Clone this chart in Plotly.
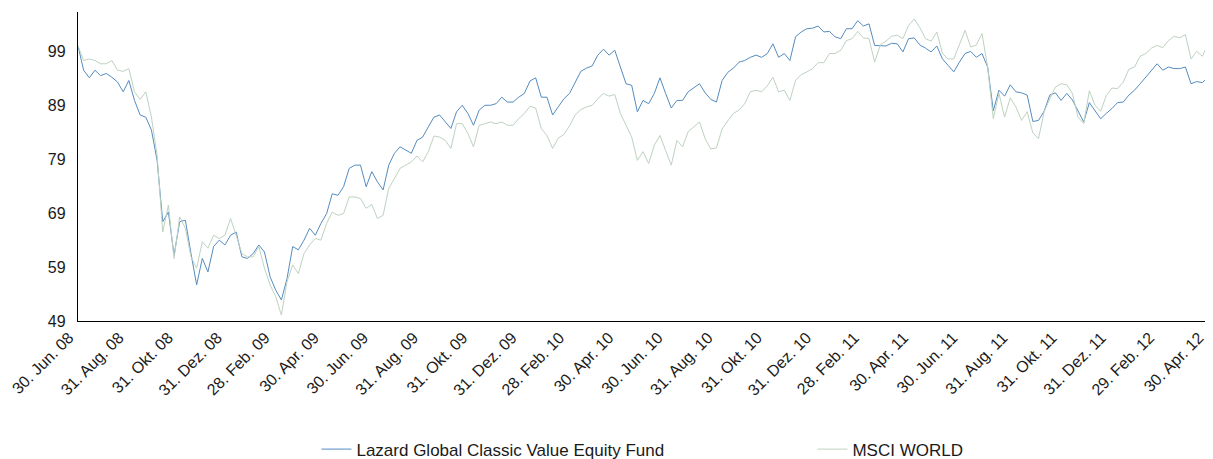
import pandas as pd
import plotly.graph_objects as go

# weekly observation dates (every 7 days from 30 Jun 2008 to 30 Apr 2012)
dates = pd.date_range("2008-06-30", "2012-04-30", freq="7D")

fund_name = "Lazard Global Classic Value Equity Fund"
msci_name = "MSCI WORLD"

fund = [
    100.0, 95.5, 94.1, 95.5, 94.5, 94.9, 94.2, 93.3, 91.5, 93.6,
    89.9, 87.2, 86.8, 84.4, 78.8, 67.4, 69.2, 61.2, 67.4, 67.7,
    61.5, 55.7, 60.6, 58.1, 62.8, 64.0, 63.1, 64.9, 65.5, 60.9,
    60.6, 61.5, 63.1, 61.8, 57.2, 54.7, 52.9, 56.9, 62.8, 62.2,
    64.0, 66.2, 64.9, 67.1, 68.9, 72.6, 72.3, 73.9, 77.3, 77.9,
    77.9, 73.9, 76.7, 74.8, 73.3, 77.9, 80.1, 81.3, 80.7, 80.1,
    82.5, 83.1, 85.0, 86.8, 87.2, 85.9, 84.7, 87.8, 89.0, 87.5,
    85.3, 88.1, 89.0, 89.0, 89.3, 90.5, 89.6, 89.6, 90.5, 91.2,
    93.5, 94.1, 90.5, 90.5, 87.2, 88.7, 90.2, 91.2, 93.3, 95.3,
    95.9, 96.3, 98.3, 99.4, 98.3, 99.2, 96.1, 93.0, 92.7, 87.8,
    89.9, 89.3, 91.2, 94.1, 91.2, 88.5, 89.9, 89.9, 91.5, 92.2,
    93.0, 91.3, 90.1, 89.6, 93.6, 95.1, 95.9, 97.0, 97.3, 97.9,
    98.3, 97.9, 98.6, 100.4, 97.9, 98.6, 97.3, 101.7, 102.6, 103.2,
    103.3, 103.7, 102.6, 102.7, 101.7, 101.35, 103.2, 103.2, 104.7, 103.7,
    104.1, 100.1, 100.1, 100.0, 100.5, 100.4, 98.9, 101.35, 101.5, 100.2,
    99.6, 98.9, 100.0, 97.6, 96.4, 95.2, 97.0, 98.6, 99.0, 97.9,
    98.6, 96.1, 88.0, 91.8, 90.7, 92.8, 91.5, 91.3, 90.9, 86.0,
    86.2, 87.9, 90.9, 91.3, 89.9, 91.2, 90.0, 87.8, 85.9, 89.5,
    88.1, 86.5, 87.5, 88.4, 89.5, 89.6, 90.9, 91.8, 93.0, 94.2,
    95.3, 96.7, 95.5, 96.1, 95.8, 95.8, 96.1, 93.0, 93.4, 93.2,
    94.2,
]

msci = [
    100.0, 97.3, 97.6, 97.3, 96.7, 96.7, 97.3, 95.5, 95.3, 95.8,
    91.5, 90.1, 91.5, 86.8, 79.7, 65.5, 70.5, 60.6, 68.3, 66.2,
    60.9, 58.8, 63.7, 62.5, 64.9, 64.3, 64.9, 68.0, 64.9, 61.5,
    60.9, 60.9, 62.8, 58.8, 55.7, 53.5, 50.1, 56.3, 59.4, 57.8,
    61.5, 63.1, 64.3, 64.0, 67.1, 69.2, 68.6, 68.9, 72.0, 72.0,
    71.7, 69.9, 70.6, 68.0, 68.6, 73.6, 75.4, 77.3, 77.9, 78.5,
    79.6, 78.5, 80.4, 83.3, 83.1, 82.5, 81.0, 85.6, 85.6, 83.8,
    81.3, 85.3, 85.6, 85.9, 85.6, 85.9, 85.3, 85.3, 86.5, 87.5,
    88.8, 88.5, 84.7, 83.4, 81.0, 82.9, 83.6, 85.2, 87.2, 88.2,
    88.7, 89.0, 90.2, 91.2, 90.7, 91.0, 87.5, 85.3, 83.1, 78.8,
    80.4, 78.2, 81.6, 83.4, 80.5, 77.9, 82.5, 81.3, 84.1, 85.0,
    85.9, 82.8, 80.9, 81.1, 84.6, 86.1, 87.5, 88.1, 89.3, 91.5,
    91.8, 91.5, 92.6, 94.2, 91.5, 91.8, 89.9, 93.6, 94.7, 95.2,
    95.8, 96.9, 96.9, 98.6, 98.6, 99.2, 101.0, 101.35, 102.7, 101.5,
    101.35, 97.0, 100.2, 100.9, 101.8, 102.0, 101.35, 103.8, 105.0, 103.4,
    101.35, 100.9, 102.6, 98.6, 97.6, 97.6, 100.4, 102.9, 99.8, 100.2,
    102.3, 96.1, 86.5, 91.2, 86.8, 90.4, 88.7, 86.2, 87.8, 83.9,
    82.8, 87.8, 90.2, 92.4, 93.0, 92.8, 91.2, 86.8, 85.6, 91.7,
    89.0, 87.9, 90.8, 92.2, 92.1, 93.3, 95.7, 96.1, 98.1, 98.6,
    99.6, 100.1, 99.7, 101.0, 101.8, 101.5, 102.1, 97.6, 99.0, 98.1,
    100.4,
]

tick_dates = [
    "2008-06-30", "2008-08-31", "2008-10-31", "2008-12-31", "2009-02-28",
    "2009-04-30", "2009-06-30", "2009-08-31", "2009-10-31", "2009-12-31",
    "2010-02-28", "2010-04-30", "2010-06-30", "2010-08-31", "2010-10-31",
    "2010-12-31", "2011-02-28", "2011-04-30", "2011-06-30", "2011-08-31",
    "2011-10-31", "2011-12-31", "2012-02-29", "2012-04-30",
]
tick_labels = [
    "30. Jun. 08", "31. Aug. 08", "31. Okt. 08", "31. Dez. 08", "28. Feb. 09",
    "30. Apr. 09", "30. Jun. 09", "31. Aug. 09", "31. Okt. 09", "31. Dez. 09",
    "28. Feb. 10", "30. Apr. 10", "30. Jun. 10", "31. Aug. 10", "31. Okt. 10",
    "31. Dez. 10", "28. Feb. 11", "30. Apr. 11", "30. Jun. 11", "31. Aug. 11",
    "31. Okt. 11", "31. Dez. 11", "29. Feb. 12", "30. Apr. 12",
]
y_ticks = [49, 59, 69, 79, 89, 99]

FONT = "Liberation Sans, Arial, sans-serif"

fig = go.Figure()
fig.add_trace(go.Scatter(
    x=dates, y=fund, mode="lines", name=fund_name,
    line=dict(color="rgb(84,140,192)", width=1),
))
fig.add_trace(go.Scatter(
    x=dates, y=msci, mode="lines", name=msci_name,
    line=dict(color="rgb(190,210,192)", width=1),
))

# the page body has an 8px default margin, so the figure is sized to fit the window
fig.update_layout(
    width=1205, height=451,
    margin=dict(l=70, r=5, t=4, b=138, autoexpand=False),
    paper_bgcolor="white", plot_bgcolor="white",
    font=dict(family=FONT, size=16, color="#1a1a1a"),
    showlegend=True,
    legend=dict(
        orientation="h", x=0.211, xanchor="left", y=-0.416, yanchor="middle",
        entrywidth=451, entrywidthmode="pixels",
        font=dict(family=FONT, size=17, color="#1a1a1a"),
        bgcolor="rgba(0,0,0,0)",
    ),
    xaxis=dict(
        type="date",
        range=["2008-06-30", "2012-04-30"],
        tickvals=tick_dates, ticktext=tick_labels,
        tickangle=-45, showgrid=False, zeroline=False,
        showline=True, linecolor="black", linewidth=1.3,
        ticks="", ticklabelshift=-9,
        tickfont=dict(family=FONT, size=16, color="#1a1a1a"),
    ),
    yaxis=dict(
        range=[49, 106.3],
        tickvals=y_ticks, ticktext=[str(v) for v in y_ticks],
        showgrid=False, zeroline=False,
        showline=True, linecolor="black", linewidth=1.3,
        ticks="", ticklabelstandoff=8,
        tickfont=dict(family=FONT, size=16, color="#1a1a1a"),
    ),
)

fig.write_html("out.html")
